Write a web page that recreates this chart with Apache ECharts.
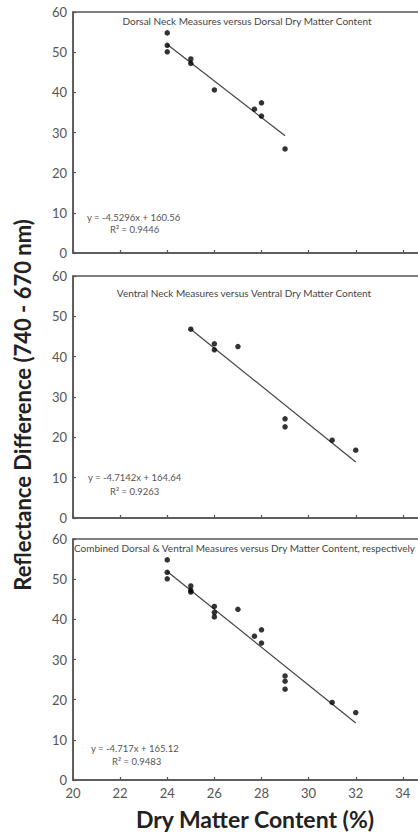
<!DOCTYPE html>
<html>
<head>
<meta charset="utf-8">
<script src="https://cdn.jsdelivr.net/npm/echarts@6/dist/echarts.min.js"></script>
<style>
html,body{margin:0;padding:0;background:#fff;}
#chart{width:418px;height:837px;}
</style>
</head>
<body>
<div id="chart"></div>
<script>
// Data
const xTicks = [20, 22, 24, 26, 28, 30, 32, 34];
const yTicks = [0, 10, 20, 30, 40, 50, 60];

const dorsalPoints = [
  [24, 54.8], [24, 51.7], [24, 50.1],
  [25, 48.3], [25, 47.2],
  [26, 40.6],
  [27.7, 35.8],
  [28, 37.4], [28, 34.1],
  [29, 25.9]
];
const ventralPoints = [
  [25, 46.8],
  [26, 43.2], [26, 41.7],
  [27, 42.5],
  [29, 24.6], [29, 22.6],
  [31, 19.3],
  [32, 16.8]
];
const combinedPoints = dorsalPoints.concat(ventralPoints);

const trendDorsal = [[24, 51.9], [29, 29.2]];
const trendVentral = [[25, 46.8], [32, 13.9]];
const trendCombined = [[24, 51.9], [32, 14.2]];

const panelTitles = [
  'Dorsal Neck Measures versus Dorsal Dry Matter Content',
  'Ventral Neck Measures versus Ventral Dry Matter Content',
  'Combined Dorsal & Ventral Measures versus Dry Matter Content, respectively'
];
const equations = ['y = -4.5296x + 160.56', 'y = -4.7142x + 164.64', 'y = -4.717x + 165.12'];
const rSquared = ['R\u00B2 = 0.9446', 'R\u00B2 = 0.9263', 'R\u00B2 = 0.9483'];

const xName = 'Dry Matter Content (%)';
const yName = 'Reflectance Difference (740 - 670 nm)';

const FONT = 'Lato, "Liberation Sans", sans-serif';
const AX = '#555';

const grids = [
  {left: 73, top: 12, width: 377, height: 241},
  {left: 73, top: 276, width: 377, height: 242},
  {left: 73, top: 539, width: 377, height: 241}
].map(g => Object.assign(g, {show: true, borderColor: AX, borderWidth: 1.5,
  backgroundColor: 'transparent', containLabel: false, outerBoundsMode: 'none'}));

function xAxis(i) {
  return {
    type: 'value', gridIndex: i, min: 20, max: 36, interval: 2,
    axisLine: {show: true, lineStyle: {color: AX, width: 1.5}},
    axisTick: {show: true, inside: true, length: 3, lineStyle: {color: AX, width: 1.2}},
    splitLine: {show: false},
    axisLabel: {show: i === 2, color: '#555', fontSize: 13, margin: 6, fontFamily: FONT,
      formatter: v => xTicks.indexOf(v) >= 0 ? String(v) : ''},
    name: i === 2 ? xName : '',
    nameLocation: 'middle', nameGap: 27,
    nameTextStyle: {fontSize: 23, fontWeight: 'bold', color: '#222', fontFamily: FONT, padding: [0, 13, 0, 0]}
  };
}
function yAxis(i) {
  return {
    type: 'value', gridIndex: i, min: 0, max: 60, interval: 10,
    axisLine: {show: true, lineStyle: {color: AX, width: 1.5}},
    axisTick: {show: true, inside: true, length: 3, lineStyle: {color: AX, width: 1.2}},
    splitLine: {show: false},
    axisLabel: {color: '#555', fontSize: 13, margin: 6, fontFamily: FONT,
      formatter: v => yTicks.indexOf(v) >= 0 ? String(v) : ''},
    name: i === 1 ? yName : '',
    nameLocation: 'middle', nameGap: 40, nameRotate: 90,
    nameTextStyle: {fontSize: 22, fontWeight: 'bold', color: '#222', fontFamily: FONT, padding: [0, 16, 0, 0]}
  };
}

function scatter(i, data) {
  return {type: 'scatter', xAxisIndex: i, yAxisIndex: i, data: data, symbolSize: 5.5,
    itemStyle: {color: '#000'}, z: 5};
}
function trend(i, data) {
  return {type: 'line', xAxisIndex: i, yAxisIndex: i, data: data, symbol: 'none',
    lineStyle: {color: '#444', width: 1.2}, z: 3};
}

const titleStyle = {fill: '#444', fontSize: 10, fontFamily: FONT};
const eqStyle = {fill: '#555', fontSize: 9.5, fontFamily: FONT};

const titlePos = [[247, 21, 'center'], [244, 293, 'center'], [74, 548, 'left']];
const eqPos = [[87, 217, 110, 229], [88, 477, 110, 491], [91, 748, 112, 761]];
const gfx = [];
for (let i = 0; i < 3; i++) {
  gfx.push({type: 'text', x: titlePos[i][0], y: titlePos[i][1],
    style: Object.assign({text: panelTitles[i], textAlign: titlePos[i][2], textVerticalAlign: 'middle'}, titleStyle)});
  gfx.push({type: 'text', x: eqPos[i][0], y: eqPos[i][1],
    style: Object.assign({text: equations[i], textAlign: 'left', textVerticalAlign: 'middle'}, eqStyle)});
  gfx.push({type: 'text', x: eqPos[i][2], y: eqPos[i][3],
    style: Object.assign({text: rSquared[i], textAlign: 'left', textVerticalAlign: 'middle'}, eqStyle)});
}

const chart = echarts.init(document.getElementById('chart'), null, {renderer: 'svg', width: 418, height: 837});
chart.setOption({
  animation: false,
  backgroundColor: '#fff',
  grid: grids,
  xAxis: [xAxis(0), xAxis(1), xAxis(2)],
  yAxis: [yAxis(0), yAxis(1), yAxis(2)],
  graphic: gfx,
  series: [
    trend(0, trendDorsal), scatter(0, dorsalPoints),
    trend(1, trendVentral), scatter(1, ventralPoints),
    trend(2, trendCombined), scatter(2, combinedPoints)
  ]
});
</script>
</body>
</html>
